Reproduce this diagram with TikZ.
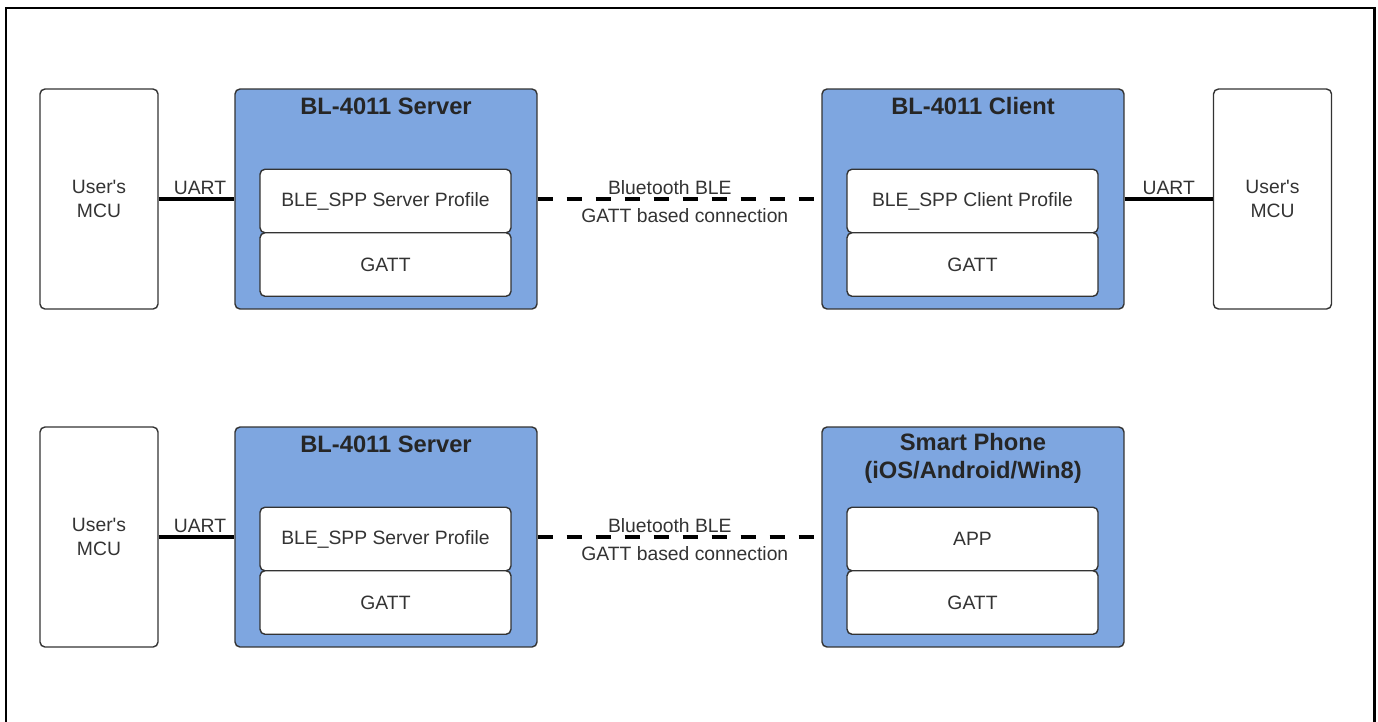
\documentclass[tikz,border=0pt]{standalone}
\usepackage{fontspec}
\setmainfont{Liberation Sans}
\usetikzlibrary{positioning}

\definecolor{boxblue}{HTML}{7EA6E0}
\definecolor{txtgray}{HTML}{333333}

\begin{document}
\begin{tikzpicture}[x=0.02cm, y=-0.02cm,
    mcu/.style={rectangle, draw=txtgray, line width=0.8pt, rounded corners=2.8pt, fill=white, minimum width=2.36cm, minimum height=4.4cm, align=center, text=txtgray, font=\fontsize{11}{13.6}\selectfont},
    device/.style={rectangle, draw=txtgray, line width=0.8pt, rounded corners=2.8pt, fill=boxblue, minimum width=6.04cm, minimum height=4.4cm},
    layer/.style={rectangle, draw=txtgray, line width=0.8pt, rounded corners=2.8pt, fill=white, minimum width=5.02cm, minimum height=1.27cm, text=txtgray, font=\fontsize{11}{13}\selectfont},
    title/.style={font=\bfseries\fontsize{13.5}{15.8}\selectfont, align=center, text=black!85},
    uart/.style={line width=2.3pt},
    ble/.style={line width=2.3pt, dash pattern=on 8.5pt off 8pt},
    lbl/.style={font=\fontsize{11}{13}\selectfont, text=txtgray, inner sep=1.5pt}]
    \useasboundingbox (0,0) rectangle (1378,721);
    \draw[line width=1.7pt] (6,740) -- (6,8) -- (1374,8) -- (1374,740);

    % first row: server -- client
    \node[mcu] (mcuA) at (99,199) {User\textquotesingle s\\MCU};
    \node[device] (srvA) at (386,199) {};
    \node[title] (srvAt) at (386,106) {BL-4011 Server};
    \node[layer] (profA) at (385.5,201) {BLE\_SPP Server Profile};
    \node[layer] (gattA) at (385.5,264.5) {GATT};

    \node[device] (cliB) at (973,199) {};
    \node[title] (cliBt) at (973,106) {BL-4011 Client};
    \node[layer] (profB) at (972.5,201) {BLE\_SPP Client Profile};
    \node[layer] (gattB) at (972.5,264.5) {GATT};
    \node[mcu] (mcuB) at (1272.5,199) {User\textquotesingle s\\MCU};

    \draw[uart] (mcuA) -- node[lbl, above, xshift=2] {UART} (srvA);
    \draw[ble] (srvA) -- node[lbl, above, xshift=-5.5] {Bluetooth BLE}
        node[lbl, below, xshift=3, inner sep=4pt] {GATT based connection} (cliB);
    \draw[uart] (cliB) -- node[lbl, above] {UART} (mcuB);

    % second row: server -- smart phone
    \node[mcu] (mcuC) at (99,537) {User\textquotesingle s\\MCU};
    \node[device] (srvC) at (386,537) {};
    \node[title] (srvCt) at (386,444) {BL-4011 Server};
    \node[layer] (profC) at (385.5,539) {BLE\_SPP Server Profile};
    \node[layer] (gattC) at (385.5,602.5) {GATT};

    \node[device] (phone) at (973,537) {};
    \node[title] (phonet) at (973,458) {Smart Phone\\(iOS/Android/Win8)};
    \node[layer] (app) at (972.5,539) {APP};
    \node[layer] (gattD) at (972.5,602.5) {GATT};

    \draw[uart] (mcuC) -- node[lbl, above, xshift=2] {UART} (srvC);
    \draw[ble] (srvC) -- node[lbl, above, xshift=-5.5] {Bluetooth BLE}
        node[lbl, below, xshift=3, inner sep=4pt] {GATT based connection} (phone);
\end{tikzpicture}
\end{document}
